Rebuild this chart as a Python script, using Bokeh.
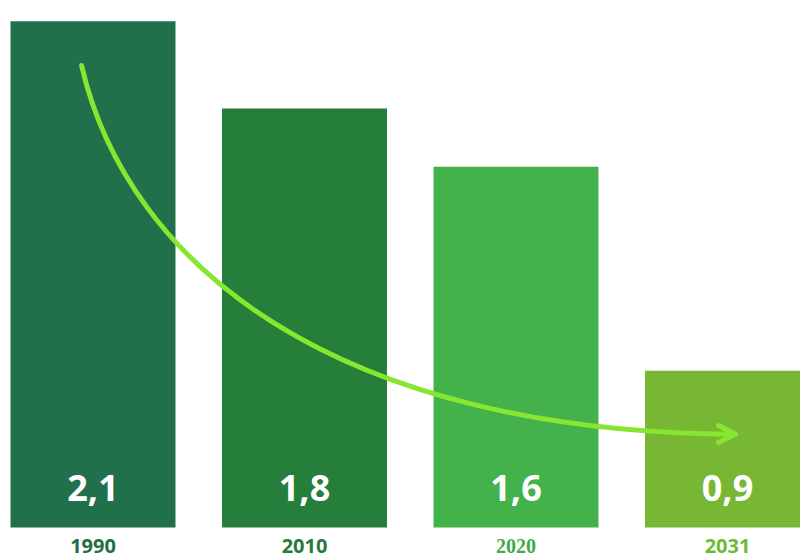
from bokeh.plotting import figure
from bokeh.models import ColumnDataSource, Range1d, Arrow, OpenHead
from bokeh.core.properties import value
from bokeh.embed import file_html
from bokeh.resources import INLINE

# ---- data ----
years = ["1990", "2010", "2020", "2031"]
values = [2.1, 1.8, 1.6, 0.9]
value_labels = ["2,1", "1,8", "1,6", "0,9"]
bar_colors = ["#20714B", "#267E3B", "#44B24A", "#78B733"]
year_colors = ["#1F6E45", "#267A3A", "#3DAA45", "#6DBA35"]
year_fonts = ["Open Sans", "Open Sans", "Liberation Serif", "Open Sans"]

# trend arrow (cubic curve, data coordinates: x = bar index, y = value)
arrow_x = [-0.054, 0.163, 1.147, 3.038]
arrow_y = [1.948, 1.262, 0.689, 0.682]

# ---- layout constants ----
W, H = 800, 557
PX = 291.3            # pixels per value unit
BASE = 0.362          # visible baseline of the bars
BASE_FROM_TOP = 527   # px from top of frame to the baseline
X_PX = 211.5          # px between bar centres
X0_PX = 92.5          # px from frame left to first bar centre

y_top = BASE + BASE_FROM_TOP / PX
y_bot = BASE - (H - BASE_FROM_TOP) / PX
x_start = -X0_PX / X_PX
x_end = (W - X0_PX) / X_PX

idx = list(range(len(years)))
src = ColumnDataSource(dict(
    x=idx, top=values, color=bar_colors, lab=value_labels,
    lab_y=[BASE + 40 / PX] * len(idx),
))

p = figure(width=W, height=H, output_backend="svg", toolbar_location=None,
           x_range=Range1d(x_start, x_end), y_range=Range1d(y_bot, y_top),
           x_axis_location=None, y_axis_location=None,
           min_border=0, min_border_left=0, min_border_right=0,
           min_border_top=0, min_border_bottom=0)
p.outline_line_color = None
p.grid.visible = False
p.background_fill_color = "white"
p.border_fill_color = "white"

p.vbar(x="x", top="top", bottom=BASE, width=0.78, fill_color="color",
       line_color=None, source=src)

# value labels
p.text(x="x", y="lab_y", text="lab", source=src, text_color="white",
       text_font=value("Open Sans"), text_font_style="bold",
       text_font_size="36px", text_align="center", text_baseline="middle")

# year labels (each in its own colour / font)
for i in idx:
    p.text(x=[i], y=[BASE - 18 / PX], text=[years[i]], text_color=year_colors[i],
           text_font=value(year_fonts[i]), text_font_style="bold",
           text_font_size="20px", text_align="center", text_baseline="middle")

# trend curve + arrow head
LIME = "#86E630"
p.bezier(x0=[arrow_x[0]], y0=[arrow_y[0]], cx0=[arrow_x[1]], cy0=[arrow_y[1]],
         cx1=[arrow_x[2]], cy1=[arrow_y[2]], x1=[arrow_x[3]], y1=[arrow_y[3]],
         line_color=LIME, line_width=5, line_cap="round")
p.add_layout(Arrow(end=OpenHead(size=17, line_color=LIME, line_width=5,
                                line_cap="round", line_join="round"),
                   x_start=arrow_x[3] - 0.05, y_start=arrow_y[3] + 0.0005,
                   x_end=arrow_x[3], y_end=arrow_y[3],
                   line_color=LIME, line_width=5, line_cap="round"))

open("out.html", "w").write(file_html(p, INLINE))
